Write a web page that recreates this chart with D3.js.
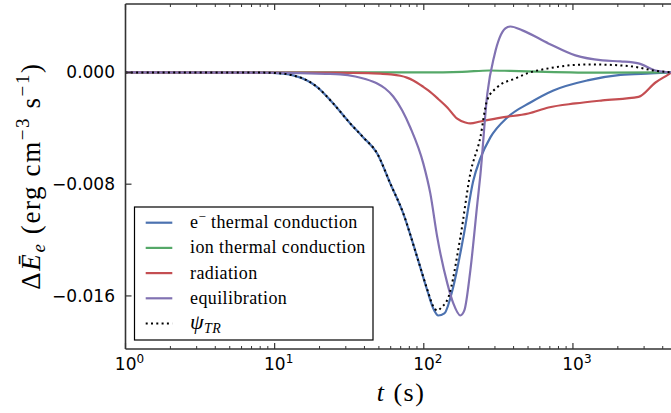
<!DOCTYPE html>
<html>
<head>
<meta charset="utf-8">
<script src="https://cdn.jsdelivr.net/npm/d3@7"></script>
<style>
  body { margin: 0; background: #fff; }
  svg { display: block; }
</style>
</head>
<body>
<svg id="chart" width="671" height="413"></svg>
<script>
// values: [t (s), delta E (erg cm^-3 s^-1)]
var eConduction = [[1,0],[5,0],[8,-0.00001],[11.4,-0.00009],[13.7,-0.00025],[16.5,-0.00057],[19.3,-0.00105],
  [24.7,-0.00222],[32.1,-0.00365],[39.3,-0.00465],[48.7,-0.0058],[59.6,-0.00795],[72.9,-0.0101],
  [90.4,-0.01324],[105.6,-0.01561],[115.8,-0.0169],[125.1,-0.0174],[137.3,-0.01725],[155.4,-0.01561],
  [184.1,-0.01181],[214.9,-0.00773],[239.4,-0.00616],[279.5,-0.00465],[363.4,-0.00322],[518.6,-0.00215],
  [739.8,-0.00129],[1251,-0.00057],[2084,-0.00018],[3313,-0.00007],[4580,0]];

var ionConduction = [[1,0],[100,0],[181,0.00004],[275,0.00014],[381,0.00011],[654,0.00004],[1578,-0.00002],[4580,0]];

var radiation = [[1,0],[25.5,-0.00002],[42.4,-0.00005],[51.1,-0.00009],[60,-0.00014],[69.6,-0.00024],
  [77,-0.00037],[85,-0.00057],[99.2,-0.00103],[107.2,-0.00129],[125,-0.0019],[143.8,-0.00251],
  [166.5,-0.00329],[189.9,-0.00358],[205.2,-0.00365],[239.4,-0.00351],[336.4,-0.00322],[502.6,-0.00294],
  [684.8,-0.00251],[1039,-0.00222],[1578,-0.002],[2752,-0.00175],[3578,-0.00072],[4375,-0.00014],[4580,0]];

var equilibration = [[1,0],[8,-0.00002],[14.8,-0.00005],[22,-0.0001],[27.5,-0.00014],[34.7,-0.00029],
  [40.5,-0.00047],[48.7,-0.00079],[55.1,-0.00115],[62.4,-0.00172],[71.7,-0.00272],[81.2,-0.00394],
  [99.2,-0.00651],[110.6,-0.00866],[123.2,-0.01181],[143.8,-0.0151],[157.8,-0.01654],[175.8,-0.0174],
  [187,-0.01704],[205.2,-0.01417],[228.6,-0.00938],[239.4,-0.00737],[266.8,-0.0015],[297.4,0.00122],
  [352.4,0.00315],[380.7,0.00329],[458.3,0.00301],[684.8,0.00208],[1039,0.00122],[1578,0.00086],
  [2084,0.00079],[2752,0.00065],[3578,0.00014],[4580,0]];

var psiTR = [[1,0],[5,0],[8,-0.00001],[11.4,-0.00009],[13.7,-0.00025],[16.5,-0.00057],[19.3,-0.00105],
  [24.7,-0.00222],[32.1,-0.00365],[39.3,-0.00465],[48.7,-0.0058],[59.6,-0.00795],[72.9,-0.0101],
  [90.4,-0.01324],[105.6,-0.01555],[115.8,-0.01675],[123.2,-0.01705],[132,-0.0168],[146,-0.01611],
  [175.8,-0.01181],[205.2,-0.00723],[239.4,-0.00465],[265.6,-0.002],[309.9,-0.00107],[411,-0.00043],
  [492.7,-0.00007],[684.8,0.00029],[1251,0.00057],[1700,0.00055],[2084,0.0005],[2600,0.0004],
  [3467,0.00014],[4580,0]];

var xMajorTicks = [1, 10, 100, 1000];
var xTickExponents = ['0', '1', '2', '3'];
var yTicks = [0, -0.008, -0.016];
var yTickLabels = ['0.000', '\u22120.008', '\u22120.016'];

var series = [
  { name: 'e', sup: '\u2212', rest: ' thermal conduction', data: eConduction, color: '#4C72B0' },
  { name: 'ion thermal conduction', data: ionConduction, color: '#55A868' },
  { name: 'radiation', data: radiation, color: '#C44E52' },
  { name: 'equilibration', data: equilibration, color: '#8172B2' },
  { name: 'psi', data: psiTR, color: '#000', dotted: true }
];

// plot box (don't call these top/left: window.top is read-only)
var pLeft = 125.5, pRight = 671.5, pTop = 4, pBottom = 349;

var svg = d3.select('#chart');

var x = d3.scaleLog().domain([1, 4580]).range([pLeft, pRight]);
var y = d3.scaleLinear().domain([-0.0198, 0.0049]).range([pBottom, pTop]);

svg.append('defs').append('clipPath').attr('id', 'plotclip')
  .append('rect').attr('x', pLeft).attr('y', pTop).attr('width', pRight - pLeft).attr('height', pBottom - pTop);

var line = d3.line()
  .x(function(d) { return x(d[0]); })
  .y(function(d) { return y(d[1]); })
  .curve(d3.curveMonotoneX);

var g = svg.append('g').attr('clip-path', 'url(#plotclip)');
series.forEach(function(s) {
  g.append('path')
    .attr('d', line(s.data))
    .attr('fill', 'none')
    .attr('stroke', s.color)
    .attr('stroke-width', s.dotted ? 2 : 2.2)
    .attr('stroke-dasharray', s.dotted ? '2,3.3' : null)
    .attr('stroke-linejoin', 'round');
});

// minor ticks 2..9 per decade
var minorTicks = [];
for (var dec = 1; dec <= 1000; dec *= 10) {
  for (var m = 2; m <= 9; m++) {
    if (dec * m < 4580) minorTicks.push(dec * m);
  }
}

var spineColor = '#333';
var axes = svg.append('g');

// bottom + top ticks, pointing inwards
axes.selectAll('.xmaj').data(xMajorTicks).enter().append('g').each(function(d) {
  var sel = d3.select(this);
  sel.append('line').attr('x1', x(d)).attr('x2', x(d)).attr('y1', pBottom).attr('y2', pBottom - 6)
    .attr('stroke', spineColor).attr('stroke-width', 1.2);
  sel.append('line').attr('x1', x(d)).attr('x2', x(d)).attr('y1', pTop).attr('y2', pTop + 6)
    .attr('stroke', spineColor).attr('stroke-width', 1.2);
});
axes.selectAll('.xmin').data(minorTicks).enter().append('g').each(function(d) {
  var sel = d3.select(this);
  sel.append('line').attr('x1', x(d)).attr('x2', x(d)).attr('y1', pBottom).attr('y2', pBottom - 3)
    .attr('stroke', spineColor).attr('stroke-width', 1);
  sel.append('line').attr('x1', x(d)).attr('x2', x(d)).attr('y1', pTop).attr('y2', pTop + 3)
    .attr('stroke', spineColor).attr('stroke-width', 1);
});

axes.selectAll('.ytick').data(yTicks).enter().append('line')
  .attr('x1', pLeft).attr('x2', pLeft + 6)
  .attr('y1', function(d) { return y(d); }).attr('y2', function(d) { return y(d); })
  .attr('stroke', spineColor).attr('stroke-width', 1.2);

// spines
axes.append('line').attr('x1', pLeft).attr('x2', pLeft).attr('y1', pTop).attr('y2', pBottom)
  .attr('stroke', spineColor).attr('stroke-width', 1.6);
axes.append('line').attr('x1', pLeft).attr('x2', pRight).attr('y1', pBottom).attr('y2', pBottom)
  .attr('stroke', spineColor).attr('stroke-width', 1.6);
axes.append('line').attr('x1', pLeft).attr('x2', pRight).attr('y1', pTop).attr('y2', pTop)
  .attr('stroke', spineColor).attr('stroke-width', 1.6);

// tick labels
svg.selectAll('.ylab').data(yTicks).enter().append('text')
  .attr('x', 115).attr('y', function(d) { return y(d) + 6; })
  .attr('text-anchor', 'end')
  .style('font-family', 'DejaVu Sans').style('font-size', '17px')
  .text(function(d, i) { return yTickLabels[i]; });

xMajorTicks.forEach(function(d, i) {
  var t = svg.append('text')
    .attr('x', x(d) + 4).attr('y', 370)
    .attr('text-anchor', 'middle')
    .style('font-family', 'DejaVu Sans').style('font-size', '17px');
  t.append('tspan').text('10');
  t.append('tspan').attr('dy', -7).style('font-size', '12px').text(xTickExponents[i]);
});

// axis labels (serif stands in for the TeX font)
var serif = '"Liberation Serif", serif';
var xl = svg.append('text').attr('x', 401).attr('y', 401).attr('text-anchor', 'middle')
  .style('font-family', serif).style('font-size', '26px').style('letter-spacing', '1.5px');
xl.append('tspan').style('font-style', 'italic').text('t');
xl.append('tspan').text(' (s)');

var yl = svg.append('text')
  .attr('transform', 'translate(40,176) rotate(-90)')
  .attr('text-anchor', 'middle')
  .style('font-family', serif).style('font-size', '27px').style('letter-spacing', '1.6px');
yl.append('tspan').text('\u0394');
yl.append('tspan').style('font-style', 'italic').text('\u0112');
yl.append('tspan').style('font-style', 'italic').style('font-size', '19px').attr('dy', 5).text('e');
yl.append('tspan').attr('dy', -5).text('  (erg cm');
yl.append('tspan').style('font-size', '19px').attr('dy', -11).text('\u22123');
yl.append('tspan').attr('dy', 11).text(' s');
yl.append('tspan').style('font-size', '19px').attr('dy', -11).text('\u22121');
yl.append('tspan').attr('dy', 11).text(')');

// legend
var lg = svg.append('g');
lg.append('rect').attr('x', 134.5).attr('y', 207).attr('width', 238.5).attr('height', 133)
  .attr('fill', '#fff').attr('stroke', '#000').attr('stroke-width', 1.2);

series.forEach(function(s, i) {
  var yy = 222.7 + i * 25.2;
  lg.append('line').attr('x1', 145.7).attr('x2', 172.3).attr('y1', yy).attr('y2', yy)
    .attr('stroke', s.color).attr('stroke-width', s.dotted ? 2 : 2.2)
    .attr('stroke-dasharray', s.dotted ? '2,3.3' : null);
  var t = lg.append('text').attr('x', 190).attr('y', yy + 5.5)
    .style('font-family', serif).style('font-size', '18px').style('letter-spacing', '0.4px');
  if (s.dotted) {
    t.append('tspan').style('font-style', 'italic').style('font-size', '22px').text('\u03C8');
    t.append('tspan').style('font-style', 'italic').style('font-size', '14px').attr('dy', 4).text('TR');
  } else if (s.sup) {
    t.append('tspan').text(s.name);
    t.append('tspan').attr('dy', -7).style('font-size', '13px').text(s.sup);
    t.append('tspan').attr('dy', 7).text(s.rest);
  } else {
    t.text(s.name);
  }
});
</script>
</body>
</html>
